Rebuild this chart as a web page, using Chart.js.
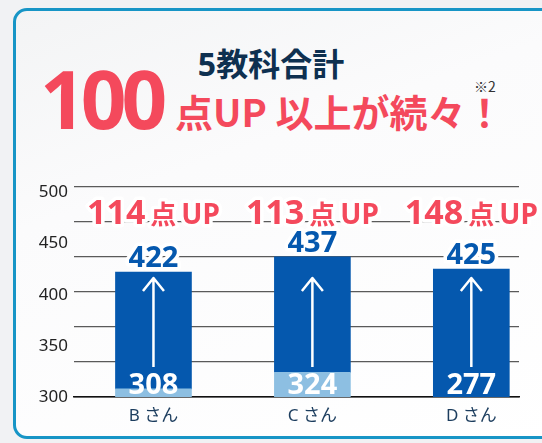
<!DOCTYPE html>
<html lang="ja">
<head>
<meta charset="utf-8">
<script src="https://cdn.jsdelivr.net/npm/chart.js@4.4.1/dist/chart.umd.min.js"></script>
<style>
html, body { margin: 0; padding: 0; }
body {
  width: 542px; height: 443px; overflow: hidden; position: relative;
  background: #f1f2f4;
  font-family: "Noto Sans", "Noto Sans CJK JP", sans-serif;
}
.card {
  position: absolute; left: 13px; top: 8px; width: 570px; height: 425px;
  border: 3px solid #1795c6; border-radius: 14px;
  background: linear-gradient(160deg, #f3f4f5 0%, #fbfbfc 35%, #ffffff 100%);
}
.sub {
  position: absolute; left: 0; top: 47px; width: 542px; text-align: center;
  font: bold 32px/34px "Noto Sans", "Noto Sans CJK JP", sans-serif; color: #0e3050;
}
.big {
  position: absolute; left: 40px; top: 58px;
  font: bold 80px/80px "Noto Sans", sans-serif; color: #f4495c; letter-spacing: -5px;
}
.rest {
  position: absolute; left: 175px; top: 92px; white-space: nowrap;
  font: bold 38px/38px "Noto Sans CJK JP", sans-serif; color: #f4495c;
}
.note {
  position: absolute; left: 474px; top: 78px;
  font: 14px/16px "Noto Sans CJK JP", sans-serif; color: #333;
}
.chart-box { position: absolute; left: 0; top: 170px; width: 542px; height: 273px; }
</style>
</head>
<body>
<div class="card"></div>
<div class="sub">5教科合計</div>
<div class="big">100</div>
<div class="rest">点UP 以上が続々！</div>
<div class="note">※2</div>
<div class="chart-box"><canvas id="scores"></canvas></div>
<script>
const categories = ['B さん', 'C さん', 'D さん'];
const beforeScores = [308, 324, 277];
const afterScores = [422, 437, 425];
const yTickValues = [300, 350, 400, 450, 500];

const RED = '#f4495c';
const BLUE = '#0558ae';

// numbers, arrows and "xx点UP" on top of the bars
const scoreLabels = {
  id: 'scoreLabels',
  afterDatasetsDraw(chart) {
    const ctx = chart.ctx;
    const area = chart.chartArea;
    const yScale = chart.scales.y;
    const bars = chart.getDatasetMeta(1).data;
    ctx.save();
    ctx.textBaseline = 'alphabetic';
    ctx.lineJoin = 'round';
    bars.forEach((bar, i) => {
      const cx = bar.x;
      const topY = yScale.getPixelForValue(afterScores[i]);
      ctx.textAlign = 'center';

      // arrow
      const tip = area.bottom - 119, tail = area.bottom - 30;
      ctx.strokeStyle = '#fff';
      ctx.lineWidth = 2.5;
      ctx.beginPath();
      ctx.moveTo(cx, tail); ctx.lineTo(cx, tip);
      ctx.moveTo(cx - 10.5, tip + 13); ctx.lineTo(cx, tip); ctx.lineTo(cx + 10.5, tip + 13);
      ctx.stroke();

      // before score
      ctx.font = 'bold 29px "Noto Sans"';
      ctx.fillStyle = '#fff';
      ctx.fillText(String(beforeScores[i]), cx, area.bottom - 3);

      // after score
      ctx.strokeStyle = '#fff';
      ctx.lineWidth = 7;
      ctx.strokeText(String(afterScores[i]), cx, topY - 5);
      ctx.fillStyle = BLUE;
      ctx.fillText(String(afterScores[i]), cx, topY - 5);

      // gain
      const parts = [
        { t: String(afterScores[i] - beforeScores[i]), f: 'bold 34px "Noto Sans"' },
        { t: '点', f: 'bold 26px "Noto Sans CJK JP"' },
        { t: 'UP', f: 'bold 28px "Noto Sans"' }
      ];
      const gap = 5;
      let total = 0;
      parts.forEach(p => { ctx.font = p.f; p.w = ctx.measureText(p.t).width; total += p.w; });
      total += gap * (parts.length - 1);
      const base = area.top + 37.5;
      ctx.textAlign = 'left';
      let x = cx - total / 2;
      parts.forEach(p => { p.x = x; x += p.w + gap; });
      ctx.strokeStyle = '#fff';
      ctx.lineWidth = 7;
      parts.forEach(p => { ctx.font = p.f; ctx.strokeText(p.t, p.x, base); });
      ctx.fillStyle = RED;
      parts.forEach(p => { ctx.font = p.f; ctx.fillText(p.t, p.x, base); });
    });
    ctx.restore();
  }
};

new Chart(document.getElementById('scores'), {
  type: 'bar',
  data: {
    datasets: [{
      label: 'before',
      data: beforeScores.map((v, i) => ({ x: i, y: v })),
      backgroundColor: '#8dbfe2',
      barThickness: 76,
      grouped: false
    }, {
      label: 'after',
      data: afterScores.map((v, i) => ({ x: i, y: [beforeScores[i], v] })),
      backgroundColor: BLUE,
      barThickness: 76,
      grouped: false
    }]
  },
  options: {
    responsive: true,
    maintainAspectRatio: false,
    animation: false,
    layout: { padding: { top: 15, right: 23, left: 0, bottom: 0 } },
    plugins: {
      legend: { display: false },
      tooltip: { enabled: false }
    },
    scales: {
      x: {
        type: 'linear',
        offset: false,
        min: -0.5,
        max: 2.3,
        afterBuildTicks: s => { s.ticks = categories.map((c, i) => ({ value: i })); },
        afterFit: s => { s.height = 46; },
        ticks: {
          callback: v => categories[v],
          padding: 9,
          color: '#1c3d5e',
          font: { family: '"Noto Sans", "Noto Sans CJK JP"', size: 17 }
        },
        grid: { display: false, drawTicks: false, offset: false },
        border: { display: true, color: '#111', width: 1.5 }
      },
      y: {
        position: 'left',
        min: 300,
        max: 506,
        afterBuildTicks: s => { s.ticks = yTickValues.map(v => ({ value: v })); },
        afterFit: s => { s.width = 74; },
        ticks: {
          padding: 6,
          color: '#222',
          font: { family: '"Noto Sans"', size: 17 }
        },
        grid: { display: false, drawTicks: false },
        border: { display: false }
      },
      yGrid: {
        position: 'left',
        min: 300,
        max: 500,
        ticks: { display: false, stepSize: 200 / 6 },
        afterFit: s => { s.width = 0; },
        grid: {
          drawTicks: false,
          color: c => (c.tick && c.tick.value === 300 ? '#111' : '#5a5a5a'),
          lineWidth: 1.2
        },
        border: { display: false }
      }
    }
  },
  plugins: [scoreLabels]
});
</script>
</body>
</html>
